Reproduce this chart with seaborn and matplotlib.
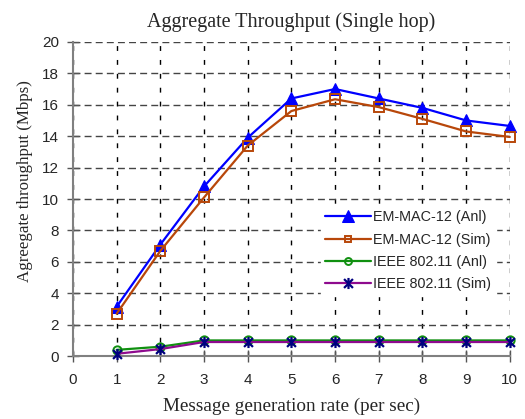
import numpy as np
import pandas as pd
import matplotlib
matplotlib.use("Agg")
import matplotlib.pyplot as plt
from matplotlib.path import Path
import seaborn as sns

# Message generation rate (per sec)
rate = [1, 2, 3, 4, 5, 6, 7, 8, 9, 10]

# Aggregate throughput (Mbps)
em_mac_anl = [3.15, 7.1, 10.8, 13.9, 16.4, 17.0, 16.4, 15.8, 15.0, 14.65]
em_mac_sim = [2.7, 6.7, 10.1, 13.4, 15.6, 16.35, 15.85, 15.1, 14.3, 13.95]
ieee_anl = [0.4, 0.6, 1.0, 1.0, 1.0, 1.0, 1.0, 1.0, 1.0, 1.0]
ieee_sim = [0.15, 0.45, 0.9, 0.9, 0.9, 0.9, 0.9, 0.9, 0.9, 0.9]

labels = ["EM-MAC-12 (Anl)", "EM-MAC-12 (Sim)", "IEEE 802.11 (Anl)", "IEEE 802.11 (Sim)"]
x_ticks = list(range(0, 11))
y_ticks = list(range(0, 21, 2))

sns.set_style("white")
plt.rcParams["font.family"] = ["Liberation Sans", "DejaVu Sans"]

fig = plt.figure(figsize=(5.25, 4.19), dpi=100)
ax = fig.add_axes([0.139, 0.150, 0.832, 0.750])

# asterisk marker: an X crossed by a vertical bar
star = Path(
    [(-1, -1), (1, 1), (-1, 1), (1, -1), (0, -1.25), (0, 1.25)],
    [Path.MOVETO, Path.LINETO, Path.MOVETO, Path.LINETO, Path.MOVETO, Path.LINETO],
)

styles = [
    dict(color="#0000FF", marker="^", markersize=8, markerfacecolor="#0000FF",
         markeredgecolor="#0000FF"),
    dict(color="#B8470A", marker="s", markersize=7, markerfacecolor="none",
         markeredgecolor="#B8470A", markeredgewidth=1.4),
    dict(color="#109010", marker="o", markersize=6, markerfacecolor="none",
         markeredgecolor="#109010", markeredgewidth=1.4),
    dict(color="#8E0A8E", marker=star, markersize=8, markeredgecolor="#000080",
         markeredgewidth=1.6),
]

for vals, lab, st in zip([em_mac_anl, em_mac_sim, ieee_anl, ieee_sim], labels, styles):
    sns.lineplot(x=rate, y=vals, ax=ax, label=lab, linewidth=1.6, clip_on=False,
                 zorder=3, **st)

ax.set_xlim(0, 10)
ax.set_ylim(0, 20)
ax.set_xticks(x_ticks)
ax.set_yticks(y_ticks)
ax.tick_params(axis="both", direction="inout", length=8, width=1, color="#555555",
               labelsize=11, left=True, bottom=True)
ax.tick_params(axis="x", pad=8)
ax.tick_params(axis="y", pad=6)

# dashed grid: longer dashes across, sparser dashes down
ax.yaxis.grid(True, color="#444444", linestyle=(0, (5, 3)), linewidth=1.0)
ax.xaxis.grid(True, color="black", linestyle=(0, (3.5, 6.5)), linewidth=1.0)
ax.set_axisbelow(True)
for side in ["top", "right"]:
    ax.spines[side].set_visible(False)
for side in ["left", "bottom"]:
    ax.spines[side].set_color("#808080")
    ax.spines[side].set_linewidth(1.5)

ax.set_title("Aggregate Throughput (Single hop)", family="Liberation Serif",
             fontsize=14.5, pad=11)
ax.set_xlabel("Message generation rate (per sec)", family="Liberation Serif",
              fontsize=13.8)
ax.set_ylabel("Agreegate throughput (Mbps)", family="Liberation Serif",
              fontsize=12.2)
ax.xaxis.set_label_coords(0.5, -0.133)
ax.yaxis.set_label_coords(-0.092, 0.558)

leg = ax.legend(loc="upper left", bbox_to_anchor=(0.567, 0.478), frameon=True,
                fontsize=10.4, handlelength=3.2, handletextpad=0.15,
                labelspacing=0.58, borderpad=0.3, borderaxespad=0, fancybox=False)
leg.get_frame().set_edgecolor("white")
leg.get_frame().set_facecolor("white")
leg.get_frame().set_alpha(1.0)
leg.set_zorder(5)
# the legend shows the open markers a little smaller
for h in leg.legend_handles[1:3]:
    h.set_markersize(5)

fig.savefig("out.png", dpi=100)
